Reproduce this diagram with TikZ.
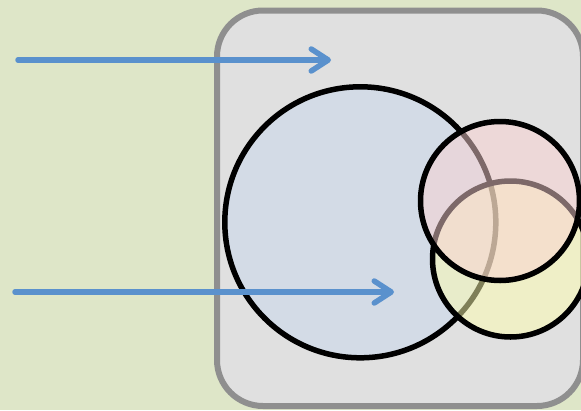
\documentclass[tikz,border=0pt]{standalone}
\usetikzlibrary{arrows.meta}
\definecolor{bgGreen}{RGB}{222,230,200}
\definecolor{panelFill}{RGB}{224,224,224}
\definecolor{panelEdge}{RGB}{143,143,143}
\definecolor{setBlue}{RGB}{211,219,230}
\definecolor{setYellow}{RGB}{254,254,176}
\definecolor{setPink}{RGB}{250,210,210}
\definecolor{arrowBlue}{RGB}{90,145,205}
\tikzset{
  setcircle/.style={draw=black, line width=5.5pt, circle, inner sep=0pt},
  flow/.style={draw=arrowBlue, line width=5.5pt, line cap=round,
    -{Straight Barb[length=17pt,width=22pt,round]}},
}
\begin{document}
\begin{tikzpicture}[x=1pt,y=-1pt]
  % canvas
  \fill[bgGreen] (0,0) rectangle (581,410);
  \useasboundingbox (0,0) rectangle (581,410);
  % rounded panel (runs past the right edge)
  \draw[panelEdge, fill=panelFill, line width=6pt, rounded corners=46pt]
    (217,10.5) rectangle (583,406);
  % sets
  \node[setcircle, fill=setBlue, minimum size=271pt] (blue) at (360.3,222.3) {};
  \node[setcircle, fill=setYellow, fill opacity=0.5, minimum size=156pt] (yellow) at (510.5,259) {};
  \node[setcircle, fill=setPink, fill opacity=0.5, minimum size=159pt] (pink) at (500,201) {};
  % incoming arrows
  \coordinate (a1s) at (18,60);
  \coordinate (a1e) at (331,60);
  \coordinate (a2s) at (15,292);
  \coordinate (a2e) at (394,292);
  \draw[flow] (a1s) -- (a1e);
  \draw[flow] (a2s) -- (a2e);
\end{tikzpicture}
\end{document}
